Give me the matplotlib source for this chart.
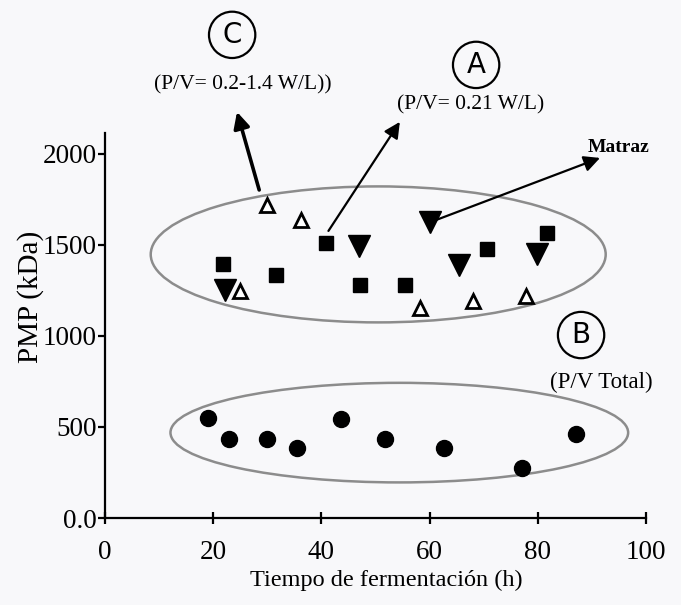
import matplotlib
matplotlib.use("Agg")
import matplotlib.pyplot as plt
from matplotlib.patches import Ellipse

# (A) P/V = 0.21 W/L  -> filled squares
a_time = [21.8, 31.6, 40.9, 47.1, 55.4, 70.7, 81.7]
a_pmp = [1394, 1333, 1509, 1278, 1278, 1475, 1563]

# (C) P/V = 0.2-1.4 W/L -> open triangles
c_time = [30.0, 36.3, 24.9, 58.3, 68.0, 77.9]
c_pmp = [1720, 1638, 1245, 1156, 1190, 1217]

# Matraz -> filled down triangles
m_time = [22.2, 46.9, 60.0, 65.5, 79.8]
m_pmp = [1253, 1495, 1627, 1390, 1448]

# (B) P/V total -> filled circles
b_time = [19.1, 22.9, 29.9, 35.5, 43.6, 51.7, 62.7, 77.1, 87.0]
b_pmp = [551, 433, 433, 382, 545, 433, 382, 275, 463]

x_ticks = [0, 20, 40, 60, 80, 100]
y_ticks = [0, 500, 1000, 1500, 2000]
y_tick_labels = ["0.0", "500", "1000", "1500", "2000"]

serif = "Liberation Serif"

fig = plt.figure(figsize=(6.81, 6.05), dpi=100, facecolor="#f8f8fa")
ax = fig.add_axes([0.1542, 0.1438, 0.7944, 0.6364])
ax.set_facecolor("none")

ax.plot(a_time, a_pmp, "s", color="black", ms=10.5, clip_on=False, zorder=3)
ax.plot(c_time, c_pmp, "^", mfc="white", mec="black", mew=2, ms=10, clip_on=False, zorder=3)
ax.plot(m_time, m_pmp, "v", color="black", ms=15.5, clip_on=False, zorder=3)
ax.plot(b_time, b_pmp, "o", color="black", ms=11.5, clip_on=False, zorder=3)

# grouping ellipses
ax.add_patch(Ellipse((50.5, 1448), 84.1, 747, fill=False, ec="#8c8c8c", lw=1.8, zorder=2))
ax.add_patch(Ellipse((54.4, 469), 84.6, 547, fill=False, ec="#8c8c8c", lw=1.8, zorder=2))

ax.set_xlim(0, 100)
ax.set_ylim(0, 2115)
ax.spines["top"].set_visible(False)
ax.spines["right"].set_visible(False)
ax.spines["left"].set_linewidth(1.6)
ax.spines["bottom"].set_linewidth(1.6)

ax.set_xticks(x_ticks)
ax.set_yticks(y_ticks)
ax.set_yticklabels(y_tick_labels)
ax.tick_params(axis="x", direction="inout", length=8, width=1.6, pad=12)
ax.tick_params(axis="y", direction="out", length=5, width=1.6, pad=1)
for lab in ax.get_xticklabels() + ax.get_yticklabels():
    lab.set_fontfamily(serif)
    lab.set_fontsize(19.5)

ax.set_xlabel("Tiempo de fermentación (h)", fontfamily=serif, fontsize=17.5)
ax.xaxis.set_label_coords(0.52, -0.135)
ax.set_ylabel("PMP (kDa)", fontfamily=serif, fontsize=21)
ax.yaxis.set_label_coords(-0.112, 0.574)

# arrows
arrow_kw = dict(arrowstyle="-|>", color="black", mutation_scale=24, shrinkA=0, shrinkB=0)
ax.annotate("", xy=(24.4, 2231), xytext=(28.5, 1802), annotation_clip=False,
            arrowprops=dict(lw=2.6, **arrow_kw))
ax.annotate("", xy=(54.5, 2176), xytext=(41.3, 1577), annotation_clip=False,
            arrowprops=dict(lw=1.6, **arrow_kw))
ax.annotate("", xy=(91.5, 1978), xytext=(61.2, 1637), annotation_clip=False,
            arrowprops=dict(lw=1.6, **arrow_kw))

# labels
circle_box = dict(boxstyle="circle,pad=0.33", fc="none", ec="black", lw=1.6)
ax.text(23.5, 2654, "C", fontsize=20, ha="center", va="center", bbox=circle_box, clip_on=False)
ax.text(68.6, 2489, "A", fontsize=20, ha="center", va="center", bbox=circle_box, clip_on=False)
ax.text(88.0, 1005, "B", fontsize=20, ha="center", va="center", bbox=circle_box, clip_on=False)

ax.text(25.5, 2379, "(P/V= 0.2-1.4 W/L))", fontfamily=serif, fontsize=15.5, ha="center", va="center", clip_on=False)
ax.text(67.5, 2269, "(P/V= 0.21 W/L)", fontfamily=serif, fontsize=15.5, ha="center", va="center", clip_on=False)
ax.text(95.0, 2033, "Matraz", fontfamily=serif, fontsize=14, fontweight="bold", ha="center", va="center", clip_on=False)
ax.text(91.7, 747, "(P/V Total)", fontfamily=serif, fontsize=16.5, ha="center", va="center", clip_on=False)

fig.savefig("out.png", dpi=100, facecolor=fig.get_facecolor())
